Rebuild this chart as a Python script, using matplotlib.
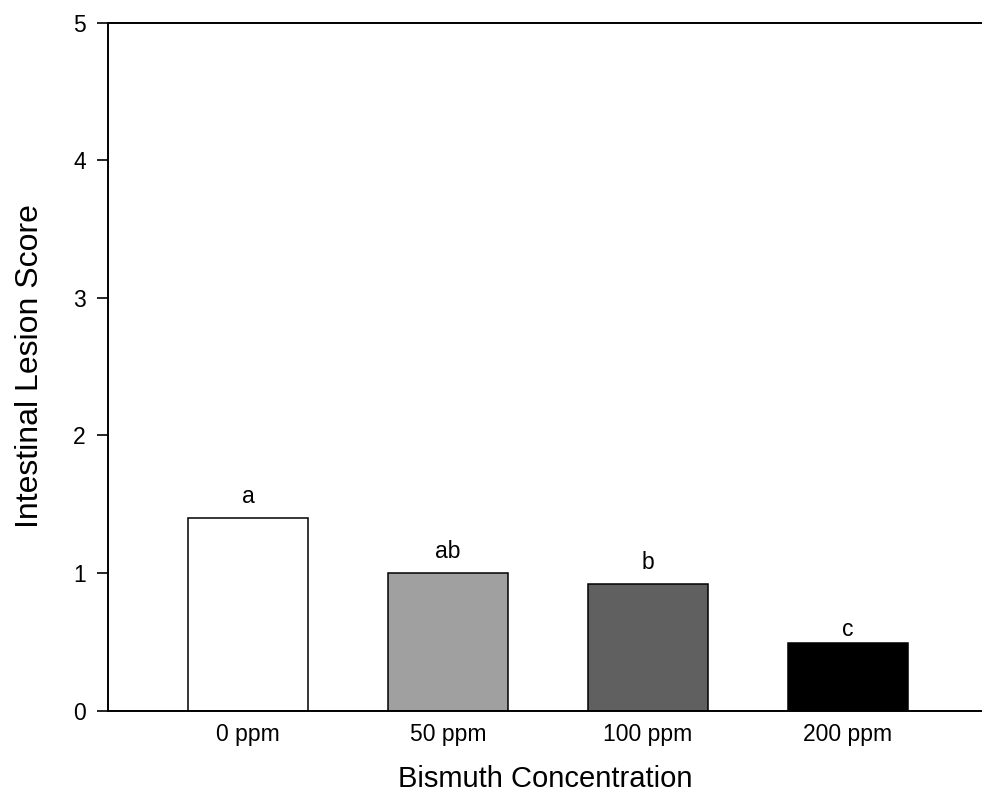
import matplotlib.pyplot as plt

# Bar chart data
concentrations = ['0 ppm', '50 ppm', '100 ppm', '200 ppm']
lesion_scores = [1.40, 1.00, 0.92, 0.49]
letters = ['a', 'ab', 'b', 'c']
letter_heights = [1.51, 1.11, 1.03, 0.54]
bar_colors = ['#ffffff', '#a0a0a0', '#606060', '#000000']

plt.rcParams['font.family'] = ['Liberation Sans', 'DejaVu Sans']

fig = plt.figure(figsize=(9.82, 7.98), dpi=100)
ax = fig.add_axes([108 / 982, 87.5 / 798, 1 - 108 / 982, 688 / 798])

positions = range(len(concentrations))
ax.bar(positions, lesion_scores, width=0.6, color=bar_colors,
       edgecolor='black', linewidth=1.1)

# Significance letters above bars
for x, y, lab in zip(positions, letter_heights, letters):
    ax.text(x, y, lab, ha='center', va='baseline', fontsize=16.5)

ax.set_xlim(-0.7, 3.67)
ax.set_ylim(0, 5)
ax.set_yticks([0, 1, 2, 3, 4, 5])
ax.set_xticks(list(positions))
ax.set_xticklabels(concentrations)

ax.spines['right'].set_visible(False)
ax.spines['left'].set_linewidth(1.4)
ax.spines['bottom'].set_linewidth(1.4)
ax.spines['top'].set_linewidth(1.4)

ax.tick_params(axis='y', direction='out', length=8, width=1.2, pad=8, labelsize=16.5)
ax.tick_params(axis='x', length=0, pad=9, labelsize=16.5)

ax.set_xlabel('Bismuth Concentration', fontsize=21, labelpad=14)
ax.set_ylabel('Intestinal Lesion Score', fontsize=23, labelpad=20)

fig.savefig('out.png', dpi=100)
